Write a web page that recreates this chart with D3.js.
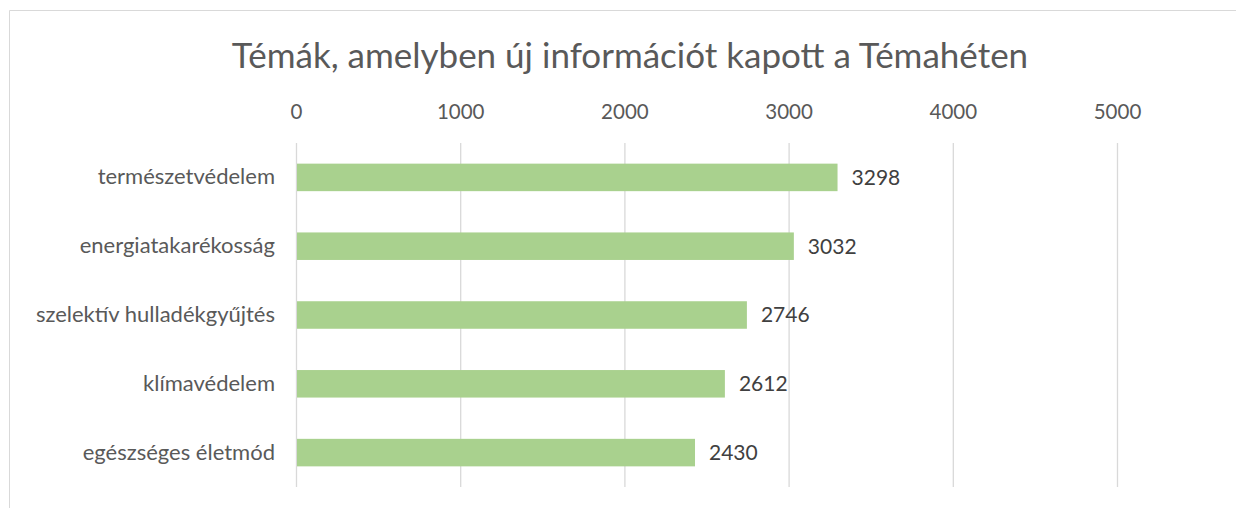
<!DOCTYPE html>
<html><head><meta charset="utf-8">
<script src="https://cdn.jsdelivr.net/npm/d3@7"></script>
<style>body{margin:0;background:#fff;} svg{display:block;}</style>
</head><body>
<svg id="c" width="1236" height="508"></svg>
<script>
const categories = ["természetvédelem","energiatakarékosság","szelektív hulladékgyűjtés","klímavédelem","egészséges életmód"];
const values = [3298, 3032, 2746, 2612, 2430];
const tickValues = [0, 1000, 2000, 3000, 4000, 5000];
const title = "Témák, amelyben új információt kapott a Témahéten";

const svg = d3.select("#c");
const font = "Lato, 'Open Sans', sans-serif";
svg.append("path").attr("d","M9.5,508 V10.5 H1236").attr("fill","none").attr("stroke","#d9d9d9").attr("stroke-width",1);

const x = d3.scaleLinear().domain([0,5000]).range([296,1117]);
const y = d3.scaleBand().domain(categories).range([143,487]).paddingInner(0.6).paddingOuter(0.3);

svg.append("text").attr("x",630).attr("y",68).attr("text-anchor","middle")
  .attr("font-family",font).attr("font-size",35).attr("fill","#595959").text(title);

const xAxis = d3.axisTop(x).tickValues(tickValues).tickSize(-(487-143)).tickFormat(d3.format("d"));
const gx = svg.append("g").attr("transform","translate(0,143)").call(xAxis);
gx.select(".domain").remove();
gx.selectAll(".tick line").attr("stroke","#d9d9d9").attr("stroke-width",1.3);
gx.selectAll(".tick text").attr("y",-31).attr("dy","0.35em").attr("font-family",font).attr("font-size",20.5).attr("fill","#595959");

svg.selectAll("rect.bar").data(values).join("rect").attr("class","bar")
  .attr("x",x(0)+1).attr("y",(d,i)=>y(categories[i]))
  .attr("width",d=>x(d)-x(0)-1).attr("height",y.bandwidth()).attr("fill","#a9d18e");

const yAxis = d3.axisLeft(y).tickSize(0).tickPadding(21);
const gy = svg.append("g").attr("transform",`translate(${x(0)},0)`).call(yAxis);
gy.select(".domain").remove();
gy.selectAll(".tick text").attr("font-family",font).attr("font-size",22).attr("fill","#595959");

svg.selectAll("text.val").data(values).join("text").attr("class","val")
  .attr("x",d=>x(d)+14).attr("y",(d,i)=>y(categories[i])+y.bandwidth()/2).attr("dy","0.35em")
  .attr("font-family",font).attr("font-size",21).attr("fill","#404040").text(d=>d);
</script>
</body></html>
